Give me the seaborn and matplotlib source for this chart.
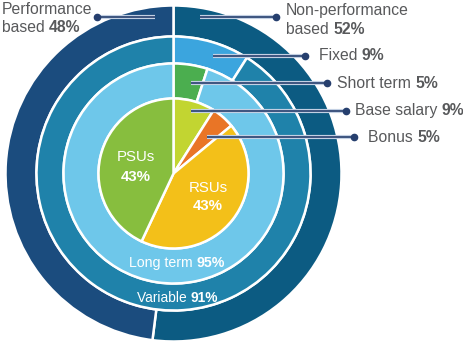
import matplotlib
matplotlib.use("Agg")
import matplotlib.pyplot as plt
import matplotlib.patheffects as pe
import seaborn as sns

# ---- data ----
outer_labels = ["Non-performance based", "Performance based"]
outer_values = [52, 48]
ring2_labels = ["Fixed", "Variable"]
ring2_values = [9, 91]
ring3_labels = ["Short term", "Long term"]
ring3_values = [5, 95]
inner_labels = ["Base salary", "Bonus", "RSUs", "PSUs"]
inner_values = [9, 5, 43, 43]

outer_colors = ["#0c5b82", "#1b4c7e"]
ring2_colors = ["#3ba5de", "#1f82aa"]
ring3_colors = ["#4bae4f", "#6ec7ea"]
inner_colors = ["#c2d531", "#e97526", "#f3c019", "#87be3e"]

sns.set_theme(style="white")
plt.rcParams["font.family"] = ["Liberation Sans", "DejaVu Sans"]

W, H = 463, 346
fig = plt.figure(figsize=(W / 100, H / 100), dpi=100)
ax = fig.add_axes([0, 0, 1, 1])

def Y(y):
    return H - y

cx, cy = 173.5, Y(173.5)
R1, R2, R3, R4 = 168, 137, 110, 75
wp = dict(edgecolor="white", linewidth=1.8)

ax.pie(outer_values, radius=R1, center=(cx, cy), colors=outer_colors,
       startangle=90, counterclock=False,
       wedgeprops=dict(width=R1 - R2, **wp))
ax.pie(ring2_values, radius=R2, center=(cx, cy), colors=ring2_colors,
       startangle=90, counterclock=False,
       wedgeprops=dict(width=R2 - R3, **wp))
ax.pie(ring3_values, radius=R3, center=(cx, cy), colors=ring3_colors,
       startangle=90, counterclock=False,
       wedgeprops=dict(width=R3 - R4, **wp))
ax.pie(inner_values, radius=R4, center=(cx, cy), colors=inner_colors,
       startangle=90, counterclock=False, wedgeprops=wp)

ax.set_xlim(0, W)
ax.set_ylim(0, H)
ax.set_aspect("equal")
ax.axis("off")

navy = "#263f6e"
grey = "#58595b"
halo = [pe.Stroke(linewidth=3.0, foreground="#c3d0e3"), pe.Normal()]

def leader(x0, x1, y, dot_x):
    ax.plot([x0, x1], [Y(y), Y(y)], color=navy, lw=1.2,
            solid_capstyle="butt", path_effects=halo, zorder=5)
    ax.plot([dot_x], [Y(y)], "o", color=navy, ms=4.5, zorder=6)

def two_part(x, y, reg, bold, size, color, ha="left"):
    t = ax.text(x, Y(y), reg, fontsize=size, color=color, ha=ha, va="center",
                zorder=7)
    ax.annotate(bold, xy=(1, 0), xycoords=t, fontsize=size, color=color,
                fontweight="bold", ha="left", va="bottom", zorder=7)
    return t

OS = 11.3
# leader lines
leader(97, 155, 17, 97)     # Performance
leader(200, 276, 17, 276)   # Non-performance
leader(213, 305, 56, 305)   # Fixed
leader(191, 327, 83, 327)   # Short term
leader(191, 346, 111, 346)  # Base salary
leader(207, 354, 137, 354)  # Bonus

# outer labels
ax.text(2, Y(10), "Performance", fontsize=OS, color=grey, ha="left", va="center")
two_part(2, 28, "based ", f"{outer_values[1]}%", OS, grey)
ax.text(286, Y(11), "Non-performance", fontsize=OS, color=grey, ha="left", va="center")
two_part(286, 29, "based ", f"{outer_values[0]}%", OS, grey)
two_part(319, 56, f"{ring2_labels[0]} ", f"{ring2_values[0]}%", OS, grey)
two_part(337, 83, f"{ring3_labels[0]} ", f"{ring3_values[0]}%", OS, grey)
two_part(355, 110.5, f"{inner_labels[0]} ", f"{inner_values[0]}%", OS, grey)
two_part(368, 137.5, f"{inner_labels[1]} ", f"{inner_values[1]}%", OS, grey)

# ring labels
two_part(129, 263, f"{ring3_labels[1]} ", f"{ring3_values[1]}%", 10.2, "white")
two_part(137, 298, f"{ring2_labels[1]} ", f"{ring2_values[1]}%", 9.9, "white")

# pie labels
ax.text(136, Y(157), inner_labels[3], fontsize=10.8, color="white", ha="center", va="center")
ax.text(136, Y(177), f"{inner_values[3]}%", fontsize=10.8, color="white",
        fontweight="bold", ha="center", va="center")
ax.text(208, Y(188), inner_labels[2], fontsize=10.8, color="white", ha="center", va="center")
ax.text(208, Y(206), f"{inner_values[2]}%", fontsize=10.8, color="white",
        fontweight="bold", ha="center", va="center")

fig.savefig("out.png", dpi=100)
